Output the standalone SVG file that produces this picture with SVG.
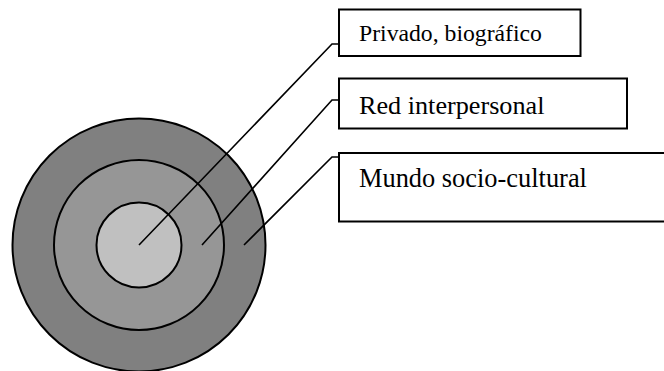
<svg xmlns="http://www.w3.org/2000/svg" width="664" height="371" viewBox="0 0 664 371">
<style>
.ring{stroke:#000;stroke-width:2}
.box{fill:#fff;stroke:#000;stroke-width:2}
.lbl{font-family:"Liberation Serif","Times New Roman",serif;fill:#000}
.conn{fill:none;stroke:#000;stroke-width:1.6}
</style>
<rect width="664" height="371" fill="#fff"/>
<g id="mundo-socio-cultural-ring"><circle class="ring" cx="139" cy="245" r="126.5" fill="#808080"/></g>
<g id="red-interpersonal-ring"><circle class="ring" cx="139" cy="245" r="85" fill="#969696"/></g>
<g id="privado-ring"><circle class="ring" cx="139" cy="245" r="42.5" fill="#c0c0c0"/></g>
<g id="connectors">
<polyline class="conn" points="139,245 332,44 339,44"/>
<polyline class="conn" points="202,245 332,100 339,100"/>
<polyline class="conn" points="244,245 332,157 339,157"/>
</g>
<g id="label-privado">
<rect class="box" x="339" y="9.5" width="241.5" height="46.5"/>
<text class="lbl" x="359" y="40.5" font-size="23.7">Privado, biográfico</text>
</g>
<g id="label-red">
<rect class="box" x="339" y="78.5" width="288" height="50"/>
<text class="lbl" x="359" y="114" font-size="26.2">Red interpersonal</text>
</g>
<g id="label-mundo">
<rect class="box" x="339" y="153" width="340" height="68.5"/>
<text class="lbl" x="359" y="186.5" font-size="26.4">Mundo socio-cultural</text>
</g>
</svg>
